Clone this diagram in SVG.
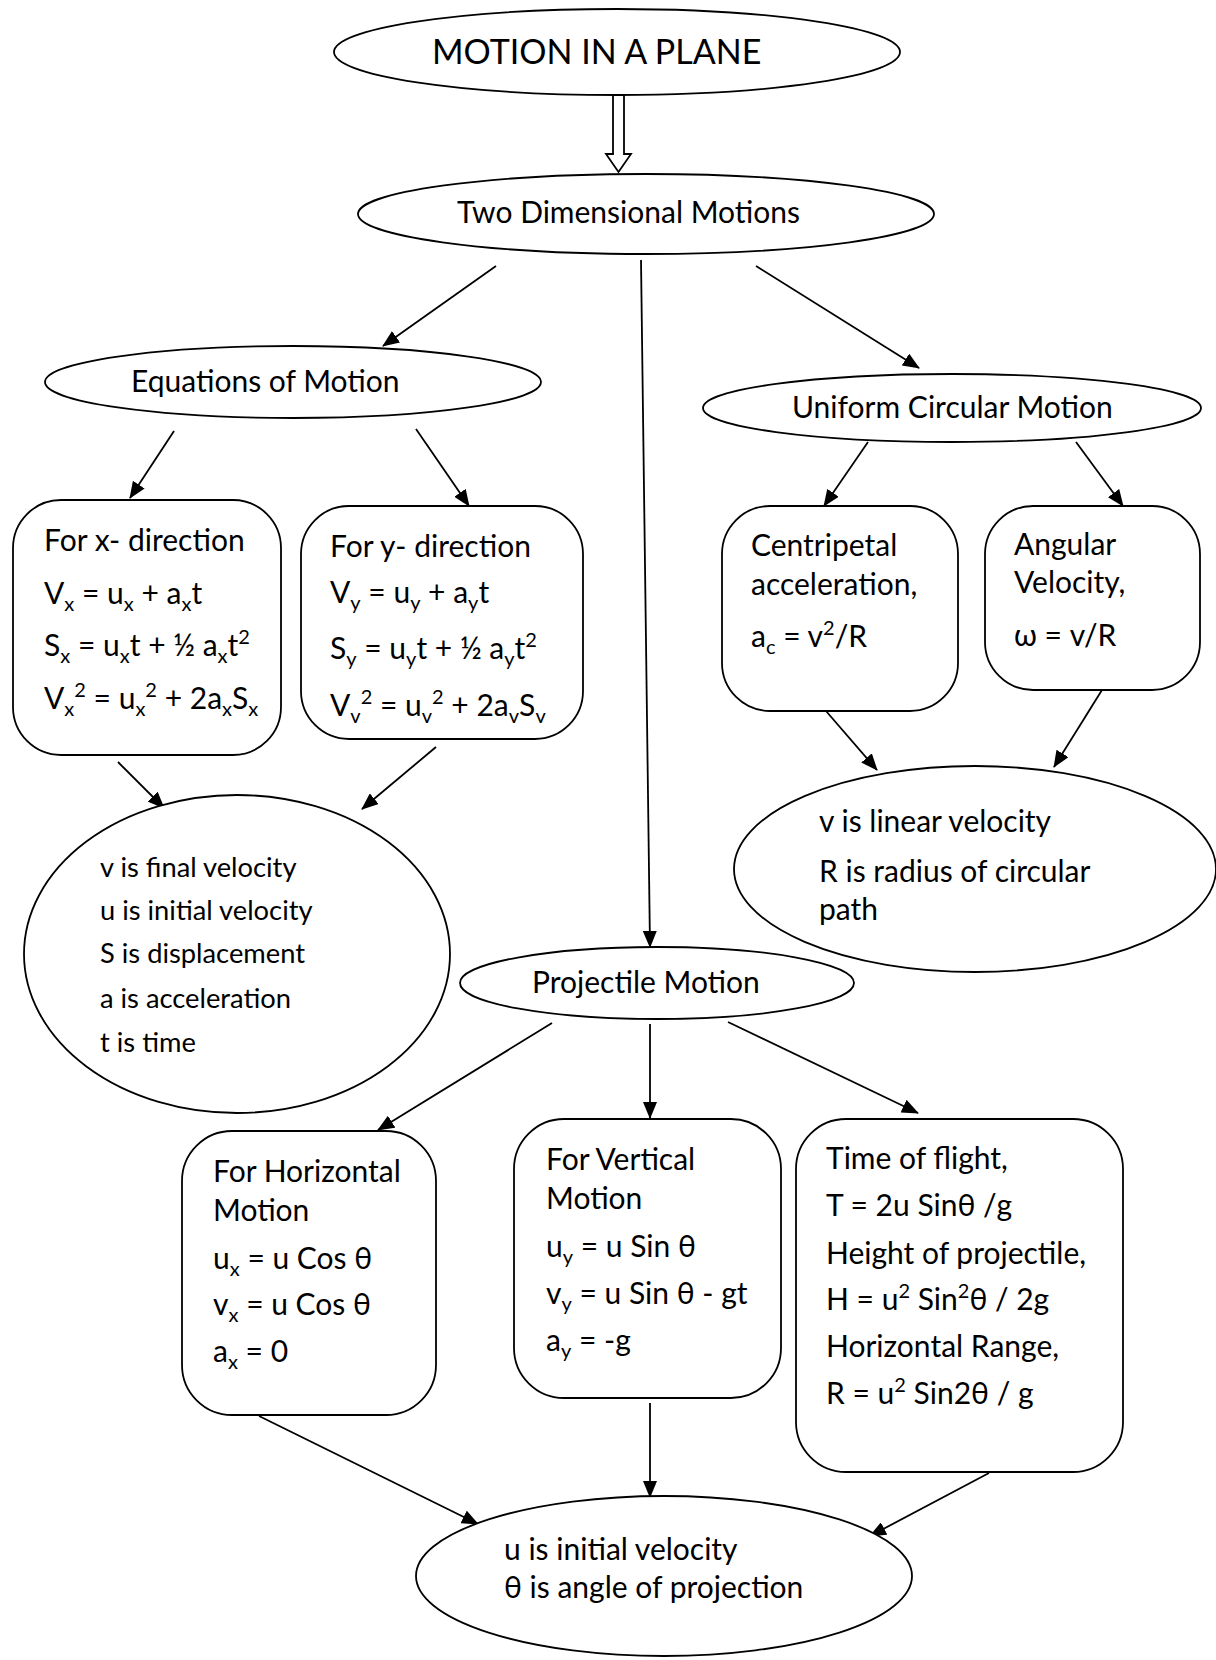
<svg xmlns="http://www.w3.org/2000/svg" width="1216" height="1660" viewBox="0 0 1216 1660">
  <style>
    .shape { fill: #ffffff; stroke: #000000; stroke-width: 1.8; }
    .edge { fill: none; stroke: #000000; stroke-width: 1.8; marker-end: url(#ah); }
    text { font-family: Lato, "Open Sans", "Liberation Sans", sans-serif; font-size: 30px; fill: #000000; }
    .title { font-size: 34px; }
    .small { font-size: 27.3px; }
    .sb { font-size: 20px; }
  </style>
  <defs>
    <marker id="ah" markerWidth="17" markerHeight="14" refX="16" refY="7" orient="auto" markerUnits="userSpaceOnUse">
      <path d="M0,0 L17,7 L0,14 z" fill="#000000"/>
    </marker>
  </defs>
  <rect width="1216" height="1660" fill="#ffffff"/>

  <!-- connectors -->
  <g id="connectors">
    <polygon class="shape" points="613,95 613,154 606,154 618.5,172 631,154 624,154 624,95"/>
    <line class="edge" x1="496" y1="266" x2="383" y2="346"/>
    <line class="edge" x1="641" y1="260" x2="650" y2="947"/>
    <line class="edge" x1="756" y1="266" x2="919" y2="368"/>
    <line class="edge" x1="174" y1="431" x2="130" y2="498"/>
    <line class="edge" x1="416" y1="429" x2="469" y2="506"/>
    <line class="edge" x1="868" y1="442" x2="824" y2="506"/>
    <line class="edge" x1="1076" y1="442" x2="1123" y2="506"/>
    <line class="edge" x1="826" y1="711" x2="877" y2="770"/>
    <line class="edge" x1="1102" y1="690" x2="1054" y2="767"/>
    <line class="edge" x1="118" y1="762" x2="164" y2="808"/>
    <line class="edge" x1="436" y1="747" x2="362" y2="809"/>
    <line class="edge" x1="552" y1="1023" x2="378" y2="1130"/>
    <line class="edge" x1="650" y1="1024" x2="650" y2="1118"/>
    <line class="edge" x1="728" y1="1022" x2="918" y2="1113"/>
    <line class="edge" x1="259" y1="1416" x2="478" y2="1524"/>
    <line class="edge" x1="650" y1="1403" x2="650" y2="1497"/>
    <line class="edge" x1="989" y1="1473" x2="870" y2="1536"/>
  </g>

  <!-- title -->
  <g id="motion-in-a-plane">
    <ellipse class="shape" cx="617" cy="52" rx="283" ry="43"/>
    <text class="title" x="432" y="64">MOTION IN A PLANE</text>
  </g>

  <g id="two-dimensional-motions">
    <ellipse class="shape" cx="646" cy="214" rx="288" ry="40"/>
    <text x="457" y="223">Two Dimensional Motions</text>
  </g>

  <g id="equations-of-motion">
    <ellipse class="shape" cx="293" cy="382" rx="248" ry="36"/>
    <text x="131" y="392">Equations of Motion</text>
  </g>

  <g id="uniform-circular-motion">
    <ellipse class="shape" cx="952" cy="408" rx="249" ry="34"/>
    <text x="792" y="418">Uniform Circular Motion</text>
  </g>

  <g id="x-direction">
    <rect class="shape" x="13" y="500" width="268" height="255" rx="48"/>
    <text x="44" y="551">For x- direction</text>
    <text x="44" y="604">V<tspan class="sb" dy="7">x</tspan><tspan dy="-7"> = u</tspan><tspan class="sb" dy="7">x</tspan><tspan dy="-7"> + a</tspan><tspan class="sb" dy="7">x</tspan><tspan dy="-7">t</tspan></text>
    <text x="44" y="656">S<tspan class="sb" dy="7">x</tspan><tspan dy="-7"> = u</tspan><tspan class="sb" dy="7">x</tspan><tspan dy="-7">t + ½ a</tspan><tspan class="sb" dy="7">x</tspan><tspan dy="-7">t</tspan><tspan class="sb" dy="-12">2</tspan></text>
    <text x="44" y="709">V<tspan class="sb" dy="7">x</tspan><tspan class="sb" dy="-19">2</tspan><tspan dy="12"> = u</tspan><tspan class="sb" dy="7">x</tspan><tspan class="sb" dy="-19">2</tspan><tspan dy="12"> + 2a</tspan><tspan class="sb" dy="7">x</tspan><tspan dy="-7">S</tspan><tspan class="sb" dy="7">x</tspan></text>
  </g>

  <g id="y-direction">
    <rect class="shape" x="301" y="506" width="282" height="233" rx="48"/>
    <text x="330" y="557">For y- direction</text>
    <text x="330" y="603">V<tspan class="sb" dy="7">y</tspan><tspan dy="-7"> = u</tspan><tspan class="sb" dy="7">y</tspan><tspan dy="-7"> + a</tspan><tspan class="sb" dy="7">y</tspan><tspan dy="-7">t</tspan></text>
    <text x="330" y="659">S<tspan class="sb" dy="7">y</tspan><tspan dy="-7"> = u</tspan><tspan class="sb" dy="7">y</tspan><tspan dy="-7">t + ½ a</tspan><tspan class="sb" dy="7">y</tspan><tspan dy="-7">t</tspan><tspan class="sb" dy="-12">2</tspan></text>
    <text x="330" y="716">V<tspan class="sb" dy="7">v</tspan><tspan class="sb" dy="-19">2</tspan><tspan dy="12"> = u</tspan><tspan class="sb" dy="7">v</tspan><tspan class="sb" dy="-19">2</tspan><tspan dy="12"> + 2a</tspan><tspan class="sb" dy="7">v</tspan><tspan dy="-7">S</tspan><tspan class="sb" dy="7">v</tspan></text>
  </g>

  <g id="centripetal-acceleration">
    <rect class="shape" x="722" y="506" width="236" height="205" rx="48"/>
    <text x="751" y="556">Centripetal</text>
    <text x="751" y="595">acceleration,</text>
    <text x="751" y="647">a<tspan class="sb" dy="7">c</tspan><tspan dy="-7"> = v</tspan><tspan class="sb" dy="-12">2</tspan><tspan dy="12">/R</tspan></text>
  </g>

  <g id="angular-velocity">
    <rect class="shape" x="985" y="506" width="215" height="184" rx="48"/>
    <text x="1014" y="555">Angular</text>
    <text x="1014" y="593">Velocity,</text>
    <text x="1014" y="646">ω = v/R</text>
  </g>

  <g id="circular-terms">
    <ellipse class="shape" cx="975" cy="869" rx="241" ry="103"/>
    <text x="819" y="832">v is linear velocity</text>
    <text x="819" y="882">R is radius of circular</text>
    <text x="819" y="920">path</text>
  </g>

  <g id="motion-terms">
    <ellipse class="shape" cx="237" cy="954" rx="213" ry="159"/>
    <text class="small" x="100" y="877">v is final velocity</text>
    <text class="small" x="100" y="920">u is initial velocity</text>
    <text class="small" x="100" y="963">S is displacement</text>
    <text class="small" x="100" y="1008">a is acceleration</text>
    <text class="small" x="100" y="1052">t is time</text>
  </g>

  <g id="projectile-motion">
    <ellipse class="shape" cx="657" cy="983" rx="197" ry="36"/>
    <text x="532" y="993">Projectile Motion</text>
  </g>

  <g id="horizontal-motion">
    <rect class="shape" x="182" y="1131" width="254" height="284" rx="50"/>
    <text x="213" y="1182">For Horizontal</text>
    <text x="213" y="1221">Motion</text>
    <text x="213" y="1269">u<tspan class="sb" dy="7">x</tspan><tspan dy="-7"> = u Cos θ</tspan></text>
    <text x="213" y="1315">v<tspan class="sb" dy="7">x</tspan><tspan dy="-7"> = u Cos θ</tspan></text>
    <text x="213" y="1362">a<tspan class="sb" dy="7">x</tspan><tspan dy="-7"> = 0</tspan></text>
  </g>

  <g id="vertical-motion">
    <rect class="shape" x="514" y="1119" width="267" height="279" rx="50"/>
    <text x="546" y="1170">For Vertical</text>
    <text x="546" y="1209">Motion</text>
    <text x="546" y="1257">u<tspan class="sb" dy="7">y</tspan><tspan dy="-7"> = u Sin θ</tspan></text>
    <text x="546" y="1304">v<tspan class="sb" dy="7">y</tspan><tspan dy="-7"> = u Sin θ - gt</tspan></text>
    <text x="546" y="1351">a<tspan class="sb" dy="7">y</tspan><tspan dy="-7"> = -g</tspan></text>
  </g>

  <g id="projectile-results">
    <rect class="shape" x="796" y="1119" width="327" height="353" rx="50"/>
    <text x="826" y="1169">Time of flight,</text>
    <text x="826" y="1216">T = 2u Sinθ /g</text>
    <text x="826" y="1264">Height of projectile,</text>
    <text x="826" y="1310">H = u<tspan class="sb" dy="-12">2</tspan><tspan dy="12"> Sin</tspan><tspan class="sb" dy="-12">2</tspan><tspan dy="12">θ / 2g</tspan></text>
    <text x="826" y="1357">Horizontal Range,</text>
    <text x="826" y="1404">R = u<tspan class="sb" dy="-12">2</tspan><tspan dy="12"> Sin2θ / g</tspan></text>
  </g>

  <g id="projectile-terms">
    <ellipse class="shape" cx="664" cy="1576" rx="248" ry="80"/>
    <text x="504" y="1560">u is initial velocity</text>
    <text x="504" y="1598">θ is angle of projection</text>
  </g>
</svg>
